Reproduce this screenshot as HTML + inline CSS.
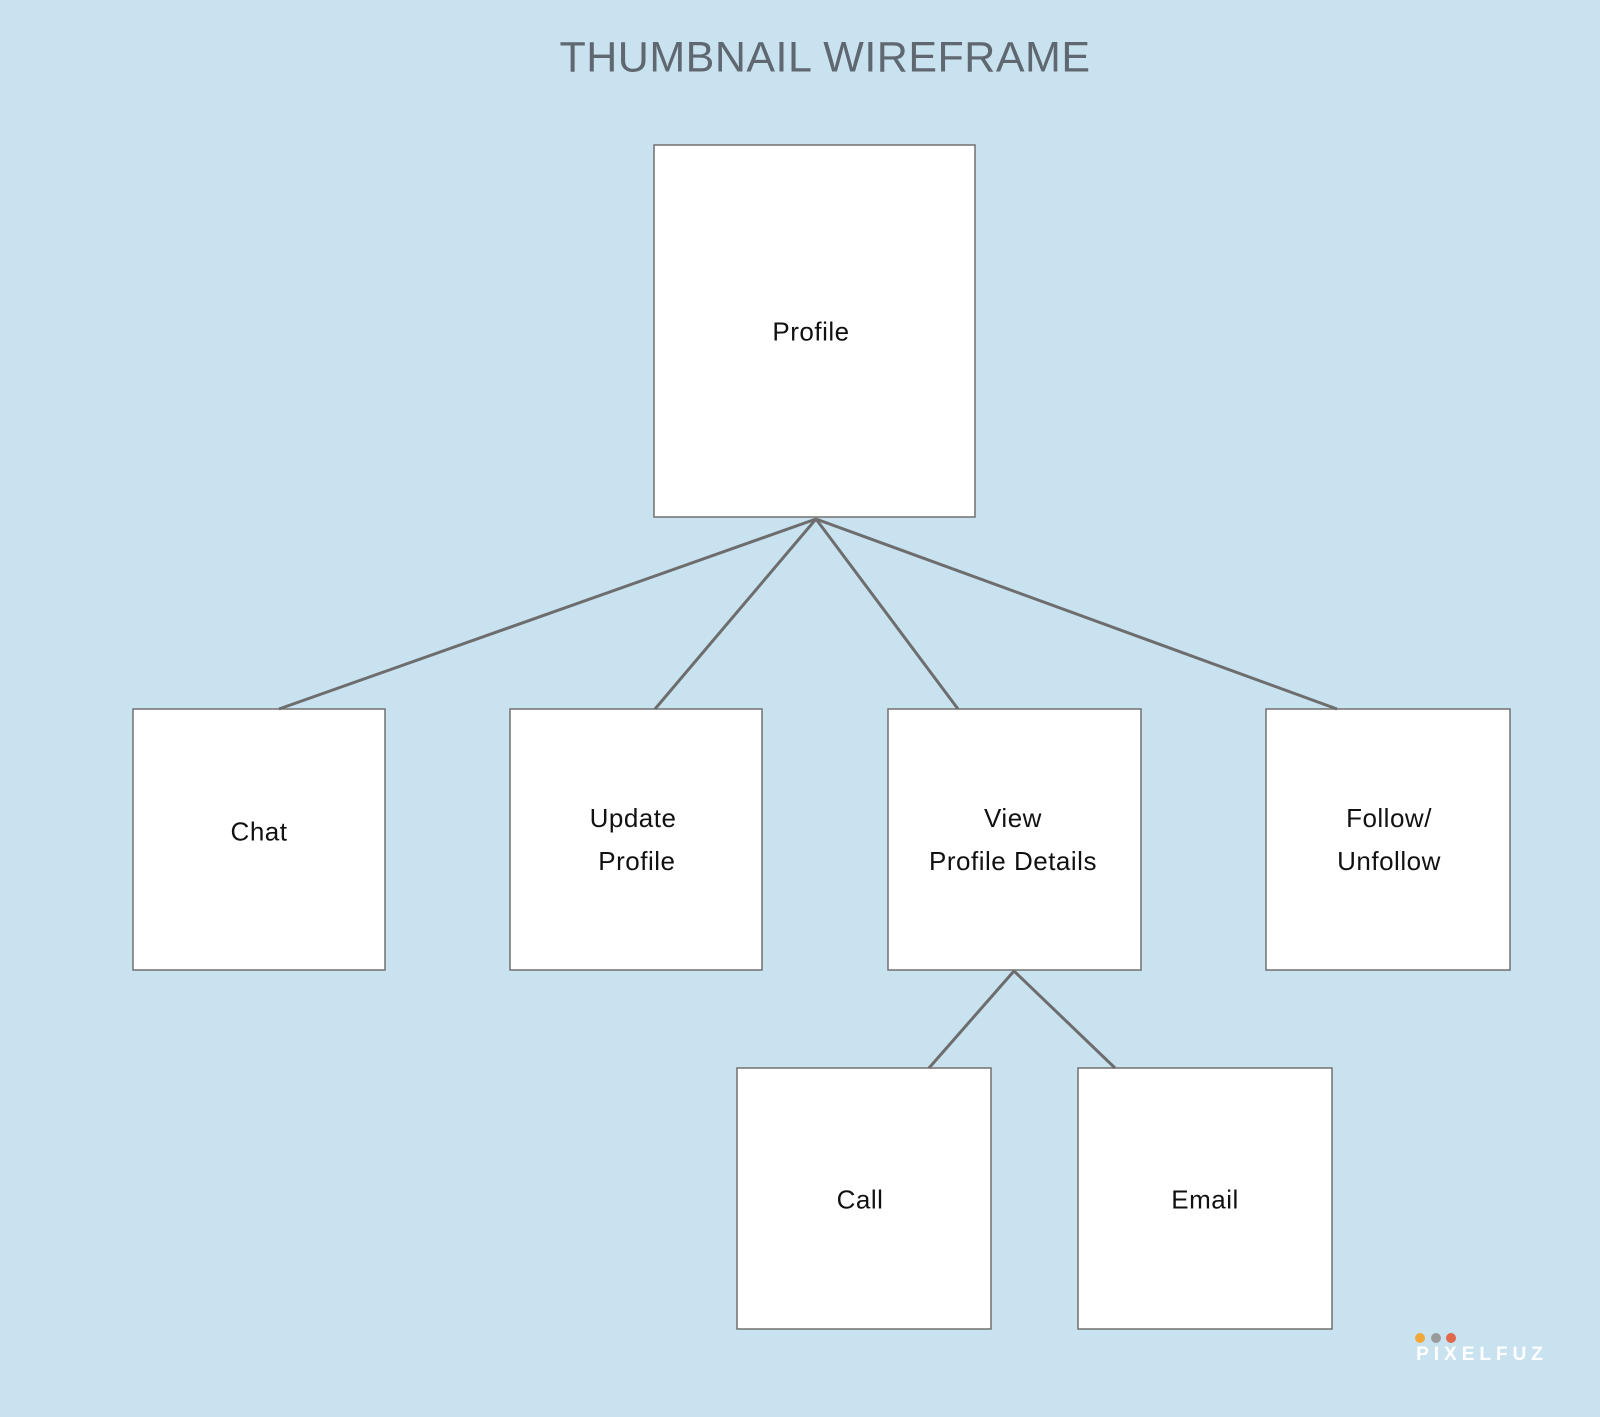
<!DOCTYPE html>
<html><head><meta charset="utf-8"><style>
html,body{margin:0;padding:0}
body{width:1600px;height:1417px;background:#c9e2f0;position:relative;overflow:hidden;font-family:"Liberation Sans",sans-serif}
.t{position:absolute;font-size:26px;color:#111;text-align:center;line-height:43px;transform:translate(-50%,-50%);white-space:nowrap;letter-spacing:0.5px}
</style></head><body>
<svg width="1600" height="1417" style="position:absolute;left:0;top:0">
<g fill="#fff" stroke="#707070" stroke-width="1.5">
<rect x="654" y="145" width="321" height="372"/>
<rect x="133" y="709" width="252" height="261"/>
<rect x="510" y="709" width="252" height="261"/>
<rect x="888" y="709" width="253" height="261"/>
<rect x="1266" y="709" width="244" height="261"/>
<rect x="737" y="1068" width="254" height="261"/>
<rect x="1078" y="1068" width="254" height="261"/>
</g>
<g stroke="#6d6d6d" stroke-width="3" fill="none">
<line x1="816" y1="519" x2="279" y2="709"/>
<line x1="816" y1="519" x2="655" y2="709"/>
<line x1="816" y1="519" x2="958" y2="709"/>
<line x1="816" y1="519" x2="1337" y2="709"/>
<line x1="1014" y1="971" x2="929" y2="1068"/>
<line x1="1014" y1="971" x2="1115" y2="1068"/>
</g>
<circle cx="1420" cy="1338" r="5" fill="#f0a83a"/>
<circle cx="1436" cy="1338" r="5" fill="#9a9a9a"/>
<circle cx="1451" cy="1338" r="5" fill="#e0674a"/>
</svg>
<div class="t" style="left:825px;top:58px;font-size:43px;color:#5f6770;letter-spacing:0.5px">THUMBNAIL WIREFRAME</div>
<div class="t" style="left:811px;top:332px">Profile</div>
<div class="t" style="left:259px;top:832px">Chat</div>
<div class="t" style="left:633px;top:840px">Update<br>&nbsp;Profile</div>
<div class="t" style="left:1013px;top:840px">View<br>Profile Details</div>
<div class="t" style="left:1389px;top:840px">Follow/<br>Unfollow</div>
<div class="t" style="left:860px;top:1200px">Call</div>
<div class="t" style="left:1205px;top:1200px">Email</div>
<div class="t" style="left:1482px;top:1355px;font-size:19px;font-weight:bold;color:#fff;letter-spacing:5px;line-height:20px">PIXELFUZ</div>
</body></html>
